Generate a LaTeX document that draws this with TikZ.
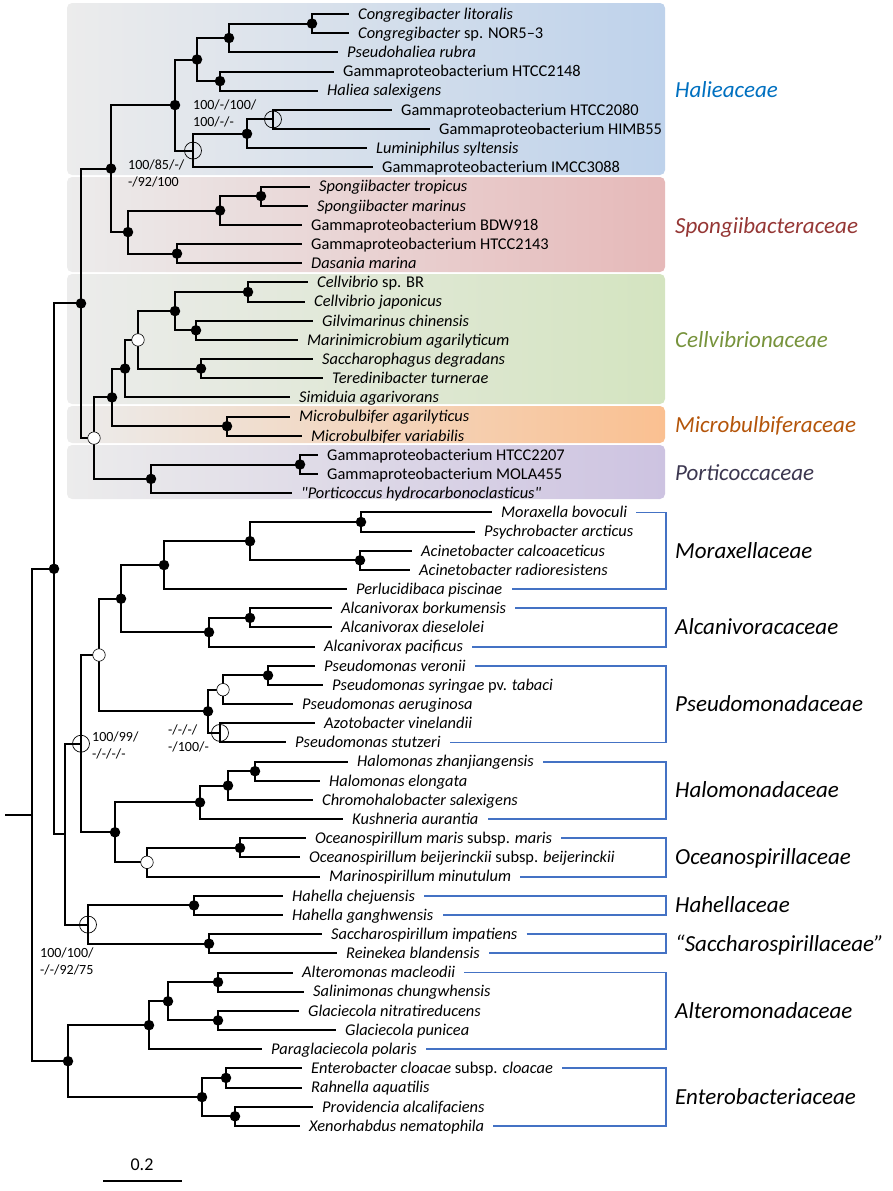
\documentclass[tikz,border=0pt]{standalone}
\usepackage{fontspec}
\setmainfont{Carlito}[Ligatures=TeXOff]
\usetikzlibrary{calc}

\definecolor{halblue}{RGB}{0,112,192}
\definecolor{sponred}{RGB}{149,55,53}
\definecolor{celgreen}{RGB}{119,147,60}
\definecolor{micorange}{RGB}{180,85,10}
\definecolor{porgray}{RGB}{60,55,80}
\definecolor{halband}{RGB}{190,210,235}
\definecolor{sponband}{RGB}{230,185,185}
\definecolor{celband}{RGB}{212,228,192}
\definecolor{micband}{RGB}{250,192,145}
\definecolor{porband}{RGB}{205,195,225}
\definecolor{bracketblue}{RGB}{68,114,196}

\begin{document}
\begin{tikzpicture}[x=1pt,y=-1pt,
  branch/.style={line width=2pt,black},
  bsfull/.style={circle,fill=black,inner sep=0pt,minimum size=10.5pt},
  bsopen/.style={circle,draw=black,fill=white,line width=0.6pt,inner sep=0pt,minimum size=12.5pt},
  bsring/.style={circle,draw=black,line width=0.7pt,inner sep=0pt,minimum size=17pt},
  taxon/.style={anchor=west,inner sep=0pt,xshift=9pt,text height=10.6pt,text depth=0pt,font=\fontsize{16.4}{19}\selectfont},
  family/.style={anchor=west,inner sep=0pt,text height=15pt,text depth=0pt,font=\fontsize{23}{27}\selectfont\itshape},
  support/.style={anchor=west,align=left,inner sep=0pt,font=\fontsize{14}{17}\selectfont},
  famline/.style={line width=1.8pt,bracketblue},
  band/.style={rounded corners=5pt}]

  \useasboundingbox (0,0) rectangle (893,1191);

  % coloured family bands
  \shade[band,left color=gray!15,right color=halband] (67,3) rectangle (665,175);
  \shade[band,left color=gray!15,right color=sponband] (67,177) rectangle (665,272);
  \shade[band,left color=gray!15,right color=celband] (67,274) rectangle (665,404);
  \shade[band,left color=gray!15,right color=micband] (67,406) rectangle (665,443);
  \shade[band,left color=gray!15,right color=porband] (67,445) rectangle (665,499);

  % leaves
  \foreach \i/\tx/\name in {
    1/349/{\textit{Congregibacter litoralis}},
    2/349/{\textit{Congregibacter} sp. NOR5–3},
    3/338/{\textit{Pseudohaliea rubra}},
    4/334/{Gammaproteobacterium HTCC2148},
    5/318/{\textit{Haliea salexigens}},
    6/392/{Gammaproteobacterium HTCC2080},
    7/430/{Gammaproteobacterium HIMB55},
    8/367/{\textit{Luminiphilus syltensis}},
    9/373/{Gammaproteobacterium IMCC3088},
    10/310/{\textit{Spongiibacter tropicus}},
    11/308/{\textit{Spongiibacter marinus}},
    12/302/{Gammaproteobacterium BDW918},
    13/302/{Gammaproteobacterium HTCC2143},
    14/302/{\textit{Dasania marina}},
    15/308/{\textit{Cellvibrio} sp. BR},
    16/305/{\textit{Cellvibrio japonicus}},
    17/313/{\textit{Gilvimarinus chinensis}},
    18/298/{\textit{Marinimicrobium agarilyticum}},
    19/313/{\textit{Saccharophagus degradans}},
    20/323/{\textit{Teredinibacter turnerae}},
    21/290/{\textit{Simiduia agarivorans}},
    22/290/{\textit{Microbulbifer agarilyticus}},
    23/302/{\textit{Microbulbifer variabilis}},
    24/318/{Gammaproteobacterium HTCC2207},
    25/318/{Gammaproteobacterium MOLA455},
    26/292/{\textit{"Porticoccus hydrocarbonoclasticus"}},
    27/492/{\textit{Moraxella bovoculi}},
    28/475/{\textit{Psychrobacter arcticus}},
    29/412/{\textit{Acinetobacter calcoaceticus}},
    30/410/{\textit{Acinetobacter radioresistens}},
    31/347/{\textit{Perlucidibaca piscinae}},
    32/332/{\textit{Alcanivorax borkumensis}},
    33/332/{\textit{Alcanivorax dieselolei}},
    34/315/{\textit{Alcanivorax pacificus}},
    35/315/{\textit{Pseudomonas veronii}},
    36/323/{\textit{Pseudomonas syringae} pv. \textit{tabaci}},
    37/293/{\textit{Pseudomonas aeruginosa}},
    38/315/{\textit{Azotobacter vinelandii}},
    39/286/{\textit{Pseudomonas stutzeri}},
    40/348/{\textit{Halomonas zhanjiangensis}},
    41/320/{\textit{Halomonas elongata}},
    42/313/{\textit{Chromohalobacter salexigens}},
    43/343/{\textit{Kushneria aurantia}},
    44/306/{\textit{Oceanospirillum maris} subsp. \textit{maris}},
    45/300/{\textit{Oceanospirillum beijerinckii} subsp. \textit{beijerinckii}},
    46/320/{\textit{Marinospirillum minutulum}},
    47/283/{\textit{Hahella chejuensis}},
    48/283/{\textit{Hahella ganghwensis}},
    49/322/{\textit{Saccharospirillum impatiens}},
    50/337/{\textit{Reinekea blandensis}},
    51/293/{\textit{Alteromonas macleodii}},
    52/304/{\textit{Salinimonas chungwhensis}},
    53/299/{\textit{Glaciecola nitratireducens}},
    54/336/{\textit{Glaciecola punicea}},
    55/262/{\textit{Paraglaciecola polaris}},
    56/302/{\textit{Enterobacter cloacae} subsp. \textit{cloacae}},
    57/302/{\textit{Rahnella aquatilis}},
    58/313/{\textit{Providencia alcalifaciens}},
    59/300/{\textit{Xenorhabdus nematophila}}}{
    \coordinate (t\i) at (\tx,{14+19.17*(\i-1)});
    \node[taxon] (l\i) at (t\i) {\name};
  }

  % internal nodes
  \coordinate (cong) at (312,23.6);
  \coordinate (congP) at (229,38.0);
  \coordinate (hal2) at (220,81.1);
  \coordinate (halA) at (197,59.5);
  \coordinate (himb) at (273,119.4);
  \coordinate (lum) at (247,133.8);
  \coordinate (imcc) at (193,150.6);
  \coordinate (halie) at (175,105.1);
  \coordinate (spo1) at (261,196.1);
  \coordinate (spo2) at (220,210.5);
  \coordinate (das) at (177,253.6);
  \coordinate (spong) at (128,232.1);
  \coordinate (hs) at (111,168.6);
  \coordinate (cel1) at (248,292.0);
  \coordinate (gil) at (196,330.3);
  \coordinate (cel2) at (175,311.1);
  \coordinate (sac) at (201,368.6);
  \coordinate (cel3) at (138,339.9);
  \coordinate (cel4) at (125,368.6);
  \coordinate (mic) at (227,426.2);
  \coordinate (cel5) at (112,397.4);
  \coordinate (por1) at (300,464.5);
  \coordinate (por2) at (151,478.9);
  \coordinate (cmp) at (94,438.1);
  \coordinate (top) at (81,303.4);
  \coordinate (mor1) at (361,522.0);
  \coordinate (aci) at (360,560.3);
  \coordinate (mor2) at (250,541.2);
  \coordinate (mor3) at (164,565.1);
  \coordinate (alc1) at (250,617.9);
  \coordinate (alc2) at (209,632.2);
  \coordinate (ma) at (121,598.7);
  \coordinate (ps1) at (268,675.4);
  \coordinate (ps2) at (223,689.7);
  \coordinate (ps3) at (220,732.9);
  \coordinate (ps4) at (208,711.3);
  \coordinate (map) at (99,655.0);
  \coordinate (hm1) at (255,771.2);
  \coordinate (hm2) at (228,785.6);
  \coordinate (hm3) at (200,802.4);
  \coordinate (oc1) at (240,847.9);
  \coordinate (oc2) at (147,862.3);
  \coordinate (ho) at (115,832.3);
  \coordinate (pmh) at (81,743.7);
  \coordinate (hah) at (194,905.4);
  \coordinate (sar) at (209,943.7);
  \coordinate (hs2) at (88,924.6);
  \coordinate (mid) at (65,834.1);
  \coordinate (upper) at (54,568.8);
  \coordinate (alt1) at (218,982.1);
  \coordinate (gla) at (218,1020.4);
  \coordinate (alt2) at (168,1001.3);
  \coordinate (alt3) at (149,1025.2);
  \coordinate (ent1) at (226,1077.9);
  \coordinate (ent2) at (235,1116.3);
  \coordinate (ent3) at (202,1097.1);
  \coordinate (ae) at (68,1061.2);
  \coordinate (root) at (32,815.0);
  \coordinate (base) at (5,815.0);

  % branches
  \foreach \p/\c in {cong/t1,cong/t2,congP/cong,congP/t3,hal2/t4,hal2/t5,halA/congP,halA/hal2,
    himb/t6,himb/t7,lum/himb,lum/t8,imcc/lum,imcc/t9,halie/halA,halie/imcc,
    spo1/t10,spo1/t11,spo2/spo1,spo2/t12,das/t13,das/t14,spong/spo2,spong/das,hs/halie,hs/spong,
    cel1/t15,cel1/t16,gil/t17,gil/t18,cel2/cel1,cel2/gil,sac/t19,sac/t20,cel3/cel2,cel3/sac,
    cel4/cel3,cel4/t21,mic/t22,mic/t23,cel5/cel4,cel5/mic,por1/t24,por1/t25,por2/por1,por2/t26,
    cmp/cel5,cmp/por2,top/hs,top/cmp,
    mor1/t27,mor1/t28,aci/t29,aci/t30,mor2/mor1,mor2/aci,mor3/mor2,mor3/t31,
    alc1/t32,alc1/t33,alc2/alc1,alc2/t34,ma/mor3,ma/alc2,
    ps1/t35,ps1/t36,ps2/ps1,ps2/t37,ps3/t38,ps3/t39,ps4/ps2,ps4/ps3,map/ma,map/ps4,
    hm1/t40,hm1/t41,hm2/hm1,hm2/t42,hm3/hm2,hm3/t43,oc1/t44,oc1/t45,oc2/oc1,oc2/t46,
    ho/hm3,ho/oc2,pmh/map,pmh/ho,hah/t47,hah/t48,sar/t49,sar/t50,hs2/hah,hs2/sar,
    mid/pmh,mid/hs2,upper/top,upper/mid,
    alt1/t51,alt1/t52,gla/t53,gla/t54,alt2/alt1,alt2/gla,alt3/alt2,alt3/t55,
    ent1/t56,ent1/t57,ent2/t58,ent2/t59,ent3/ent1,ent3/ent2,ae/alt3,ae/ent3,
    root/upper,root/ae}
    \draw[branch] (\p) |- (\c);
  \draw[branch] (base) -- (root);

  % support markers
  \foreach \n in {cong,congP,hal2,halA,lum,halie,spo1,spo2,das,spong,hs,cel1,gil,cel2,sac,cel4,
    mic,cel5,por1,por2,top,mor1,aci,mor2,mor3,alc1,alc2,ma,ps1,ps4,hm1,hm2,hm3,oc1,ho,
    hah,sar,upper,alt1,gla,alt2,alt3,ent1,ent2,ent3,ae}
    \node[bsfull] at (\n) {};
  \foreach \n in {cmp,cel3,map,ps2,oc2}
    \node[bsopen] at (\n) {};
  \foreach \n in {himb,imcc,ps3,pmh,hs2}
    \node[bsring] at (\n) {};

  % support values
  \node[support] (sv1) at (193,113) {100/-/100/\\100/-/-};
  \node[support] (sv2) at (128,173) {100/85/-/\\-/92/100};
  \node[support] (sv3) at (92,745) {100/99/\\-/-/-/-};
  \node[support] (sv4) at (168,738) {-/-/-/\\-/100/-};
  \node[support] (sv5) at (40,961) {100/100/\\-/-/92/75};

  % family names, top
  \node[family,text=halblue] (famHal) at (675,90) {Halieaceae};
  \node[family,text=sponred] (famSpo) at (675,226) {Spongiibacteraceae};
  \node[family,text=celgreen] (famCel) at (675,340) {Cellvibrionaceae};
  \node[family,text=micorange] (famMic) at (675,425) {Microbulbiferaceae};
  \node[family,text=porgray] (famPor) at (675,473) {Porticoccaceae};

  % family brackets, bottom
  \coordinate (brk) at (666,0);
  \foreach \a/\b/\fam in {27/31/Moraxellaceae,32/34/Alcanivoracaceae,35/39/Pseudomonadaceae,
    40/43/Halomonadaceae,44/46/Oceanospirillaceae,47/48/Hahellaceae,
    49/50/{“Saccharospirillaceae”},51/55/Alteromonadaceae,56/59/Enterobacteriaceae}{
    \draw[famline] ([xshift=9pt]l\a.east) -- (l\a.east -| brk) |- ([xshift=9pt]l\b.east);
    \node[family] (fam\a) at ($(l\a.east -| brk)!0.5!(l\b.east -| brk)+(9,0)$) {\fam};
  }

  % scale bar
  \coordinate (sb1) at (103,1181);
  \coordinate (sb2) at (182,1181);
  \draw[branch] (sb1) -- (sb2);
  \node[font=\fontsize{18}{20}\selectfont,inner sep=0pt] (scale) at (142,1165) {0.2};
\end{tikzpicture}
\end{document}
